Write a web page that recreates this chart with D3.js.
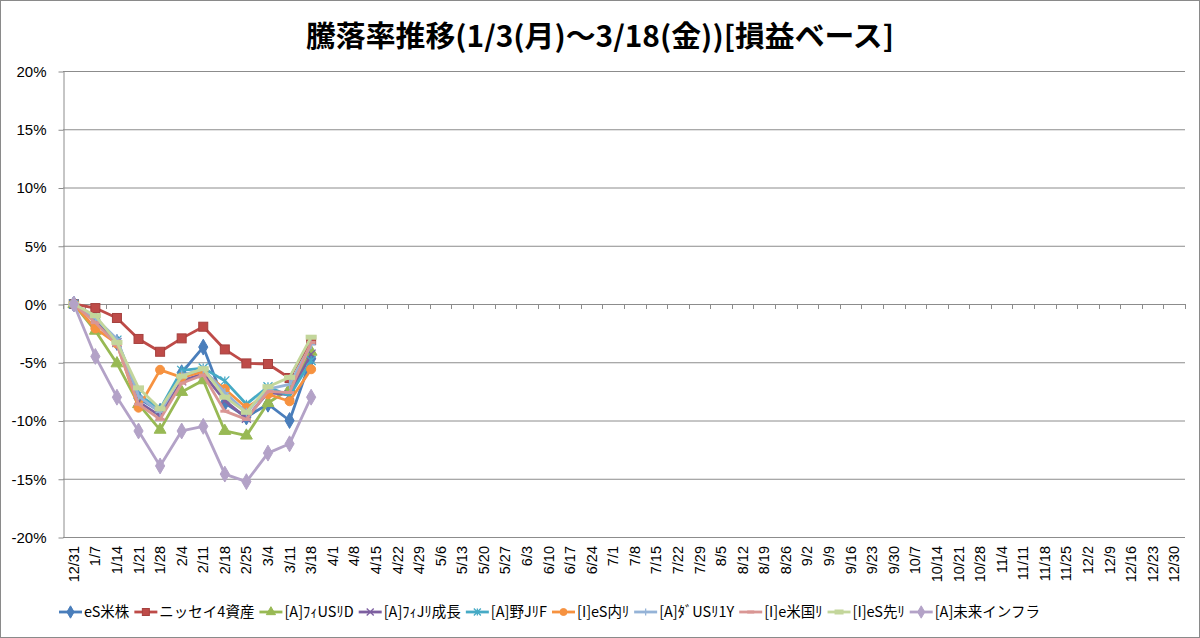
<!DOCTYPE html>
<html>
<head>
<meta charset="utf-8">
<script src="https://cdn.jsdelivr.net/npm/d3@7"></script>
<style>
  body { margin: 0; background: #fff; }
  svg { display: block; }
</style>
</head>
<body>
<svg id="chart" width="1200" height="638"></svg>
<script>
// weekly dates (3/25 is not in the sheet)
var dates = ["12/31","1/7","1/14","1/21","1/28","2/4","2/11","2/18","2/25","3/4","3/11","3/18",
  "4/1","4/8","4/15","4/22","4/29","5/6","5/13","5/20","5/27","6/3","6/10","6/17","6/24",
  "7/1","7/8","7/15","7/22","7/29","8/5","8/12","8/19","8/26","9/2","9/9","9/16","9/23","9/30",
  "10/7","10/14","10/21","10/28","11/4","11/11","11/18","11/25","12/2","12/9","12/16","12/23","12/30"];

var seriesNames = ["eS米株","ニッセイ4資産","[A]ﾌｨUSﾘD","[A]ﾌｨJﾘ成長","[A]野JﾘF",
  "[I]eS内ﾘ","[A]ﾀﾞUSﾘ1Y","[I]e米国ﾘ","[I]eS先ﾘ","[A]未来インフラ"];

// % change, 12/31 .. 3/18
var eSBeikabu   = [0,-1.3,-3.3,-8.1,-9.2,-5.9,-3.7,-8.5,-9.7,-8.6,-10.0,-4.7];
var nissei4     = [0,-0.35,-1.2,-3.0,-4.1,-2.95,-1.95,-3.9,-5.1,-5.15,-6.35,-3.1];
var fiUSReitD   = [0,-2.3,-5.1,-8.6,-10.8,-7.55,-6.55,-10.9,-11.3,-8.5,-7.3,-4.1];
var fiJReit     = [0,-1.5,-3.3,-8.4,-9.6,-6.6,-6.0,-8.3,-9.8,-7.6,-7.8,-4.3];
var nomuraJReit = [0,-1.2,-3.1,-7.8,-9.0,-5.7,-5.5,-6.6,-8.6,-7.1,-7.9,-4.85];
var eSNaiReit   = [0,-2.1,-3.4,-8.9,-5.65,-6.3,-5.8,-7.3,-8.9,-7.75,-8.35,-5.6];
var daUSReit1Y  = [0,-1.2,-3.0,-7.9,-9.3,-6.1,-5.6,-7.6,-9.3,-7.3,-6.9,-3.5];
var eBeiReit    = [0,-1.6,-3.5,-8.6,-9.9,-6.8,-6.1,-9.2,-9.9,-7.5,-7.6,-3.3];
var eSSakiReit  = [0,-1.0,-3.3,-7.2,-9.0,-6.2,-5.55,-8.0,-9.3,-7.1,-6.3,-2.85];
var miraiInfra  = [0,-4.5,-8.0,-10.9,-13.9,-10.9,-10.5,-14.6,-15.25,-12.8,-12.0,-8.0];

var yTicks = [-20,-15,-10,-5,0,5,10,15,20];

var allValues = [eSBeikabu, nissei4, fiUSReitD, fiJReit, nomuraJReit,
  eSNaiReit, daUSReit1Y, eBeiReit, eSSakiReit, miraiInfra];
var colors = ["#4a7ebb","#be4b48","#98b954","#7d5fa0","#46aac5",
  "#f69240","#95b3d7","#d99694","#c3d69b","#b3a2c7"];
var markers = ["diamond","square","triangle","x","asterisk","circle","plus","dash","longdash","diamond"];

var svg = d3.select("#chart");
var W = 1200, H = 638;
var margin = {top: 71, right: 15, bottom: 101, left: 63};

// outer frame
svg.append("rect")
   .attr("x", 0.5).attr("y", 0.5)
   .attr("width", W - 1).attr("height", H - 1)
   .attr("fill", "#fff").attr("stroke", "#8a8a8a");

// title
svg.append("text")
   .attr("x", 600).attr("y", 47)
   .attr("text-anchor", "middle")
   .attr("font-family", "'Noto Sans CJK JP', sans-serif")
   .attr("font-weight", "bold")
   .attr("font-size", 29)
   .attr("textLength", 588)
   .attr("lengthAdjust", "spacingAndGlyphs")
   .text("騰落率推移(1/3(月)～3/18(金))[損益ベース]");

var x = d3.scaleBand()
          .domain(dates)
          .range([margin.left, W - margin.right]);
var y = d3.scaleLinear()
          .domain([-20, 20])
          .range([H - margin.bottom, margin.top]);

// gridlines
svg.append("g")
   .selectAll("line")
   .data(yTicks)
   .enter().append("line")
   .attr("x1", margin.left).attr("x2", W - margin.right)
   .attr("y1", d => y(d) + 0.5).attr("y2", d => y(d) + 0.5)
   .attr("stroke", "#8c8c8c").attr("stroke-width", 1);

// y axis
var yAxis = svg.append("g")
   .attr("transform", "translate(" + (margin.left + 0.5) + ",0.5)")
   .call(d3.axisLeft(y).tickValues(yTicks).tickSize(5).tickSizeOuter(0)
          .tickFormat(d => d + "%"));
yAxis.select(".domain").attr("stroke", "#8c8c8c");
yAxis.selectAll(".tick line").attr("stroke", "#8c8c8c");
yAxis.selectAll("text")
     .attr("x", -17)
     .attr("fill", "#000")
     .attr("font-family", "'Liberation Sans', Arial, sans-serif")
     .attr("font-size", 15);

// category axis on the 0% line, ticks between categories
svg.append("g")
   .selectAll("line")
   .data(dates.concat(["end"]))
   .enter().append("line")
   .attr("x1", (d, i) => Math.round(margin.left + i * x.step()) + 0.5)
   .attr("x2", (d, i) => Math.round(margin.left + i * x.step()) + 0.5)
   .attr("y1", y(0)).attr("y2", y(0) + 5)
   .attr("stroke", "#8c8c8c");

// category labels at the bottom
var xAxis = svg.append("g")
   .attr("transform", "translate(0," + (H - margin.bottom) + ")")
   .call(d3.axisBottom(x).tickSize(0));
xAxis.select(".domain").remove();
xAxis.selectAll("text")
     .attr("transform", "rotate(-90)")
     .attr("x", -9).attr("y", 0).attr("dy", "0.35em")
     .attr("text-anchor", "end")
     .attr("fill", "#000")
     .attr("font-family", "'Liberation Sans', Arial, sans-serif")
     .attr("font-size", 14.5);

function cx(i) { return x(dates[i]) + x.bandwidth() / 2; }

function drawMarker(g, type, color, size) {
  var s = size;
  if (type === "diamond") {
    g.append("path").attr("d", d3.symbol(d3.symbolDiamond, s * s * 0.9)())
     .attr("fill", color).attr("stroke", color);
  } else if (type === "square") {
    g.append("rect").attr("x", -s / 2).attr("y", -s / 2).attr("width", s).attr("height", s)
     .attr("fill", color).attr("stroke", d3.color(color).darker(0.4));
  } else if (type === "triangle") {
    g.append("path").attr("d", d3.symbol(d3.symbolTriangle, s * s * 0.75)())
     .attr("fill", color).attr("stroke", color);
  } else if (type === "circle") {
    g.append("circle").attr("r", s / 2).attr("fill", color).attr("stroke", color);
  } else if (type === "x") {
    g.append("path").attr("d", "M" + (-s/2) + "," + (-s/2) + "L" + (s/2) + "," + (s/2) +
                             "M" + (-s/2) + "," + (s/2) + "L" + (s/2) + "," + (-s/2))
     .attr("stroke", color).attr("stroke-width", 1.3).attr("fill", "none");
  } else if (type === "asterisk") {
    g.append("path").attr("d", "M" + (-s/2) + "," + (-s/2) + "L" + (s/2) + "," + (s/2) +
                             "M" + (-s/2) + "," + (s/2) + "L" + (s/2) + "," + (-s/2) +
                             "M0," + (-s/2) + "L0," + (s/2))
     .attr("stroke", color).attr("stroke-width", 1.3).attr("fill", "none");
  } else if (type === "plus") {
    g.append("path").attr("d", "M" + (-s/2) + ",0L" + (s/2) + ",0M0," + (-s/2) + "L0," + (s/2))
     .attr("stroke", color).attr("stroke-width", 1.3).attr("fill", "none");
  } else if (type === "dash") {
    g.append("rect").attr("x", -s / 2).attr("y", -1.5).attr("width", s).attr("height", 3)
     .attr("fill", color);
  } else if (type === "longdash") {
    g.append("rect").attr("x", -s / 2 - 1).attr("y", -2.5).attr("width", s + 2).attr("height", 5)
     .attr("fill", color);
  }
}

var line = d3.line()
             .x((d, i) => cx(i))
             .y(d => y(d));

// series
allValues.forEach(function(vals, k) {
  var g = svg.append("g");
  g.append("path")
   .datum(vals)
   .attr("d", line)
   .attr("fill", "none")
   .attr("stroke", colors[k])
   .attr("stroke-width", 2.8)
   .attr("stroke-linejoin", "round");
  vals.forEach(function(v, i) {
    var m = g.append("g").attr("transform", "translate(" + cx(i) + "," + y(v) + ")");
    drawMarker(m, markers[k], colors[k], 9);
  });
});

// legend
var legend = svg.append("g");
var lx = 59, ly = 612;
seriesNames.forEach(function(name, k) {
  var item = legend.append("g").attr("transform", "translate(" + lx + "," + ly + ")");
  item.append("line")
      .attr("x1", 0).attr("x2", 23).attr("y1", 0).attr("y2", 0)
      .attr("stroke", colors[k]).attr("stroke-width", 2.8);
  drawMarker(item.append("g").attr("transform", "translate(11.5,0)"), markers[k], colors[k], 7);
  var t = item.append("text")
      .attr("x", 25).attr("y", 0).attr("dy", "0.35em")
      .attr("font-family", "'Noto Sans CJK JP', sans-serif")
      .attr("font-size", 14.5)
      .attr("fill", "#000")
      .text(name);
  lx += 25 + t.node().getComputedTextLength() + 5;
});
</script>
</body>
</html>
